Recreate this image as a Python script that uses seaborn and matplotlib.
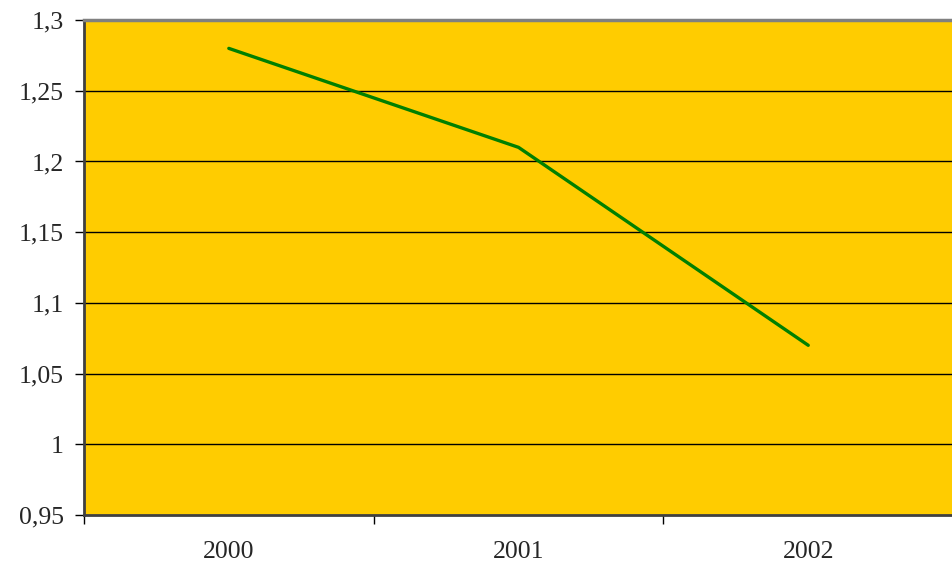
import pandas as pd
import matplotlib.pyplot as plt
import seaborn as sns

# --- Data ---
years = ['2000', '2001', '2002']
values = [1.28, 1.21, 1.07]
y_ticks = [0.95, 1.0, 1.05, 1.1, 1.15, 1.2, 1.25, 1.3]

df = pd.DataFrame({'year': years, 'value': values})

sns.set_style('white')
plt.rcParams['font.family'] = ['Liberation Serif', 'DejaVu Serif']

fig = plt.figure(figsize=(9.53, 5.63), dpi=100)
ax = fig.add_axes([0.0881, 0.0853, 0.912, 0.879])
ax.set_facecolor('#FFCC00')

sns.lineplot(data=df, x='year', y='value', color='#008000', linewidth=2.4, ax=ax)

ax.set_xlim(-0.5, 2.5)
ax.set_ylim(0.95, 1.3)
ax.set_yticks(y_ticks)
ax.set_yticklabels([f'{t:g}'.replace('.', ',') for t in y_ticks])
for t in y_ticks[1:-1]:
    ax.axhline(t, color='black', linewidth=1.0, zorder=1)

ax.set_xticks(range(len(years)))
ax.set_xticklabels(years)
ax.set_xticks([-0.5, 0.5, 1.5, 2.5], minor=True)
ax.tick_params(axis='x', which='major', length=0, pad=18.5, labelsize=18.5)
ax.tick_params(axis='x', which='minor', length=6.5, width=1, color='black', direction='out', bottom=True)
ax.tick_params(axis='y', length=6.5, width=1, color='black', direction='out', left=True, labelsize=18.5, pad=8)

ax.set_xlabel('')
ax.set_ylabel('')

for side in ['left', 'bottom']:
    ax.spines[side].set_color('#404040')
    ax.spines[side].set_linewidth(2)
ax.spines['top'].set_color('#808080')
ax.spines['top'].set_linewidth(2.5)
ax.spines['right'].set_visible(False)

fig.savefig('out.png', dpi=100)
